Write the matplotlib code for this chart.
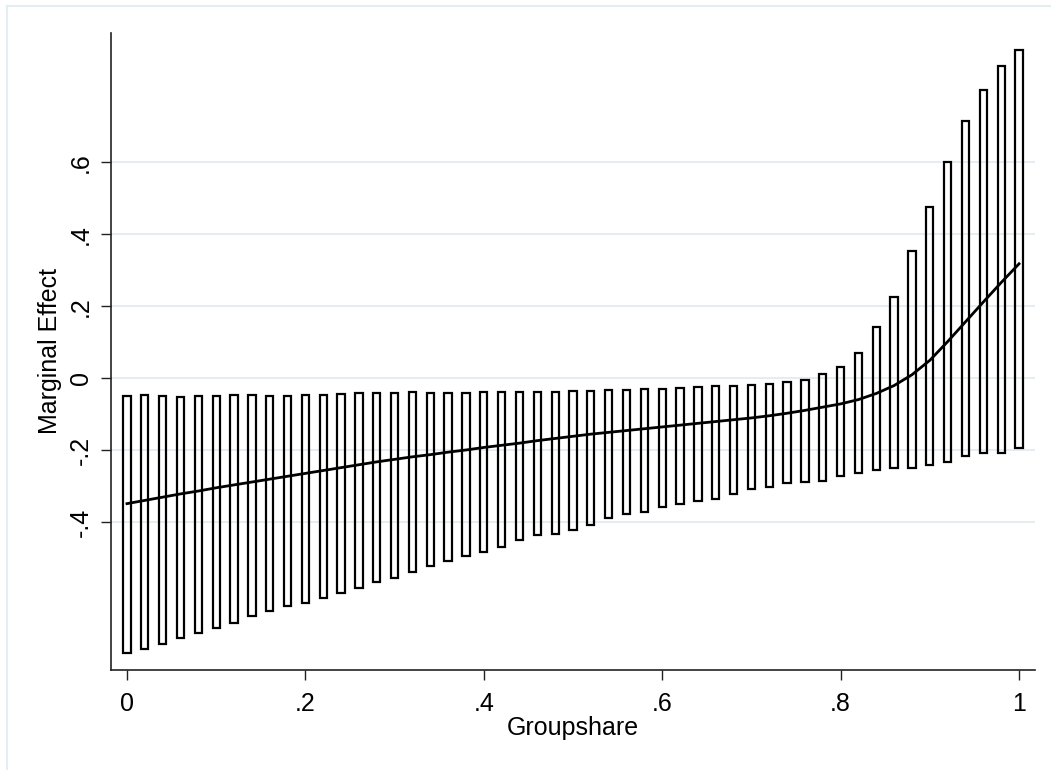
import numpy as np
import matplotlib
matplotlib.use("Agg")
import matplotlib.pyplot as plt
from matplotlib.lines import Line2D

plt.rcParams['font.family'] = ['Liberation Sans', 'DejaVu Sans']

# groupshare grid at which the marginal effect was evaluated
groupshare = [0.00, 0.02, 0.04, 0.06, 0.08, 0.10, 0.12, 0.14, 0.16, 0.18,
              0.20, 0.22, 0.24, 0.26, 0.28, 0.30, 0.32, 0.34, 0.36, 0.38,
              0.40, 0.42, 0.44, 0.46, 0.48, 0.50, 0.52, 0.54, 0.56, 0.58,
              0.60, 0.62, 0.64, 0.66, 0.68, 0.70, 0.72, 0.74, 0.76, 0.78,
              0.80, 0.82, 0.84, 0.86, 0.88, 0.90, 0.92, 0.94, 0.96, 0.98,
              1.00]

# point estimate of the marginal effect
me = [-0.348, -0.339, -0.330, -0.321, -0.313, -0.304, -0.296, -0.288, -0.280, -0.272,
      -0.264, -0.256, -0.248, -0.240, -0.232, -0.225, -0.218, -0.212, -0.205, -0.199,
      -0.192, -0.186, -0.180, -0.173, -0.167, -0.161, -0.155, -0.150, -0.145, -0.140,
      -0.135, -0.130, -0.125, -0.120, -0.115, -0.110, -0.104, -0.097, -0.089, -0.080,
      -0.071, -0.059, -0.042, -0.020, 0.010, 0.050, 0.102, 0.157, 0.212, 0.266,
      0.318]

# confidence interval bounds
ci_lo = [-0.764, -0.753, -0.737, -0.720, -0.706, -0.692, -0.679, -0.660, -0.646, -0.633,
         -0.625, -0.610, -0.596, -0.582, -0.567, -0.554, -0.537, -0.520, -0.507, -0.494,
         -0.482, -0.468, -0.450, -0.436, -0.431, -0.420, -0.406, -0.389, -0.378, -0.370,
         -0.356, -0.349, -0.342, -0.335, -0.321, -0.308, -0.302, -0.292, -0.287, -0.284,
         -0.271, -0.264, -0.255, -0.250, -0.248, -0.241, -0.232, -0.215, -0.208, -0.208,
         -0.194]
ci_hi = [-0.049, -0.047, -0.049, -0.051, -0.049, -0.049, -0.047, -0.046, -0.049, -0.049,
         -0.047, -0.045, -0.044, -0.042, -0.042, -0.041, -0.039, -0.042, -0.042, -0.042,
         -0.039, -0.037, -0.037, -0.037, -0.037, -0.035, -0.035, -0.033, -0.033, -0.031,
         -0.029, -0.027, -0.024, -0.022, -0.020, -0.019, -0.017, -0.011, -0.005, 0.011,
         0.031, 0.071, 0.143, 0.227, 0.354, 0.477, 0.600, 0.716, 0.801, 0.867,
         0.911]

xticks = [0, 0.2, 0.4, 0.6, 0.8, 1.0]
xticklabels = ['0', '.2', '.4', '.6', '.8', '1']
yticks = [-0.4, -0.2, 0, 0.2, 0.4, 0.6]
yticklabels = ['-.4', '-.2', '0', '.2', '.4', '.6']

grid_col = '#e4edf0'
fs = 18

fig = plt.figure(figsize=(10.51, 7.70), dpi=100)
ax = fig.add_axes([111/1051, 100/770, 924/1051, 637/770])

x = np.array(groupshare)
lo = np.array(ci_lo)
hi = np.array(ci_hi)

# hollow bars spanning the interval
ax.bar(x, hi - lo, bottom=lo, width=0.0082, fill=False,
       edgecolor='black', linewidth=1.6, zorder=2)
ax.plot(x, me, color='black', linewidth=2.0, zorder=3)

ax.set_xlim(-0.0179, 1.0179)
ax.set_ylim(-0.810, 0.959)

ax.set_xticks(xticks)
ax.set_xticklabels(xticklabels, fontsize=fs)
ax.set_yticks(yticks)
ax.set_yticklabels(yticklabels, fontsize=fs, rotation=90, va='center')

ax.yaxis.grid(True, color=grid_col, linewidth=1.4, zorder=0)
ax.set_axisbelow(True)

for side in ['top', 'right']:
    ax.spines[side].set_visible(False)
for side in ['left', 'bottom']:
    ax.spines[side].set_linewidth(1.2)
    ax.spines[side].set_color('#222222')
ax.tick_params(axis='both', length=7, width=1.0, color='#222222')
ax.tick_params(axis='x', pad=9)
ax.tick_params(axis='y', pad=6)

ax.set_xlabel('Groupshare', fontsize=fs, labelpad=0)
ax.set_ylabel('Marginal Effect', fontsize=fs, labelpad=5)

# outline of the graph region
fig.add_artist(Line2D([7/1051, 7/1051], [0, 1 - 6/770], transform=fig.transFigure,
                      color=grid_col, linewidth=1.5))
fig.add_artist(Line2D([7/1051, 1], [1 - 6/770, 1 - 6/770], transform=fig.transFigure,
                      color=grid_col, linewidth=1.5))

fig.savefig('out.png', dpi=100)
